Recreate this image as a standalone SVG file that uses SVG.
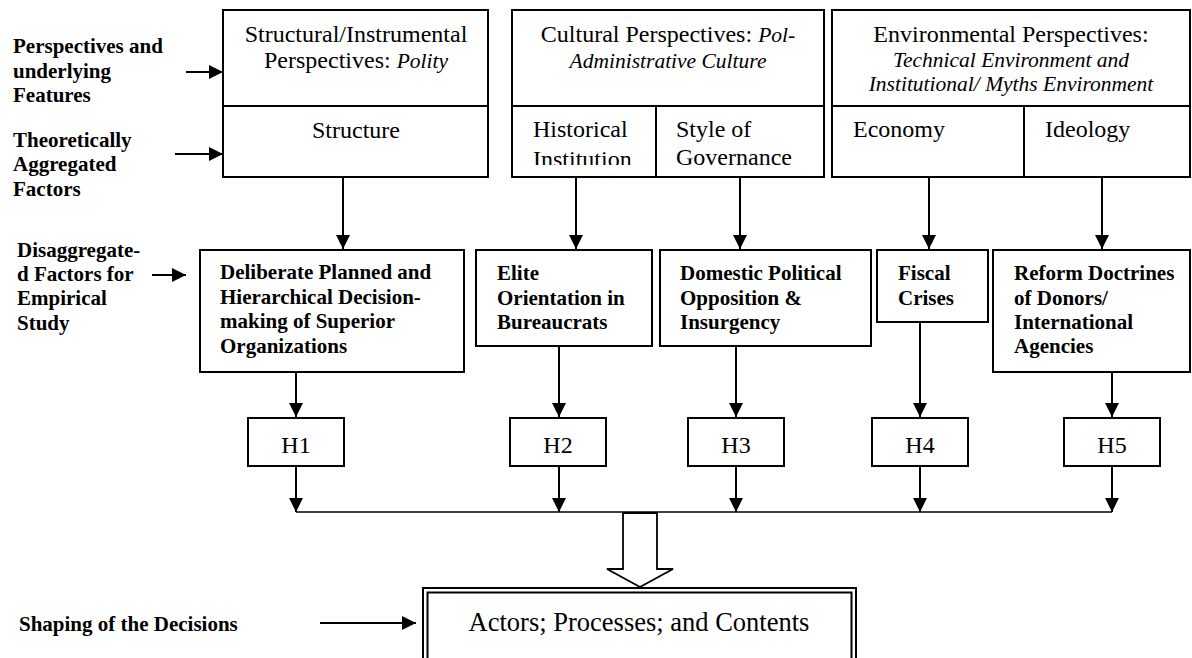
<svg xmlns="http://www.w3.org/2000/svg" width="1192" height="658" viewBox="0 0 1192 658">
<style>
text{font-family:"Liberation Serif","Times New Roman",serif;fill:#000}
.lab{font-weight:bold;font-size:21px}
.reg{font-size:24px}
.it{font-style:italic;font-size:21.5px}
.bx{fill:#fff;stroke:#000;stroke-width:2}
.ln{fill:none;stroke:#000;stroke-width:2}
.arr{fill:none;stroke:#000;stroke-width:2;marker-end:url(#ah)}
</style>
<defs>
<marker id="ah" markerUnits="userSpaceOnUse" viewBox="0 0 14 14" refX="14" refY="7" markerWidth="14" markerHeight="14" orient="auto">
<path d="M0,0 L14,7 L0,14 z" fill="#000"/>
</marker>
<clipPath id="clipHist"><rect x="512" y="106" width="144" height="59"/></clipPath>
</defs>
<rect width="1192" height="658" fill="#fff"/>

<g id="labels">
<text class="lab"><tspan x="13" y="53">Perspectives and</tspan><tspan x="13" y="78">underlying</tspan><tspan x="13" y="102">Features</tspan></text>
<text class="lab"><tspan x="13" y="147">Theoretically</tspan><tspan x="13" y="171">Aggregated</tspan><tspan x="13" y="196">Factors</tspan></text>
<text class="lab"><tspan x="17" y="257">Disaggregate-</tspan><tspan x="17" y="281">d Factors for</tspan><tspan x="17" y="305">Empirical</tspan><tspan x="17" y="330">Study</tspan></text>
<text class="lab" x="19" y="631">Shaping of the Decisions</text>
</g>

<g id="structural">
<rect class="bx" x="223" y="10" width="265" height="167"/>
<line class="ln" x1="223" y1="106" x2="488" y2="106"/>
<text class="reg" x="356" y="42" text-anchor="middle">Structural/Instrumental</text>
<text class="reg" x="356" y="68" text-anchor="middle">Perspectives: <tspan class="it">Polity</tspan></text>
<text class="reg" x="356" y="138" text-anchor="middle">Structure</text>
</g>

<g id="cultural">
<rect class="bx" x="512" y="10" width="312" height="167"/>
<line class="ln" x1="512" y1="106" x2="824" y2="106"/>
<line class="ln" x1="656" y1="106" x2="656" y2="177"/>
<text class="reg" x="668" y="42" text-anchor="middle">Cultural Perspectives: <tspan class="it">Pol-</tspan></text>
<text class="it" x="668" y="68" text-anchor="middle">Administrative Culture</text>
<text class="reg" x="533" y="137">Historical</text>
<text class="reg" x="533" y="167" clip-path="url(#clipHist)">Institution</text>
<text class="reg" x="676" y="137">Style of</text>
<text class="reg" x="676" y="165">Governance</text>
</g>

<g id="environmental">
<rect class="bx" x="832" y="10" width="358" height="167"/>
<line class="ln" x1="832" y1="106" x2="1190" y2="106"/>
<line class="ln" x1="1024" y1="106" x2="1024" y2="177"/>
<text class="reg" x="1011" y="42" text-anchor="middle">Environmental Perspectives:</text>
<text class="it" x="1011" y="67" text-anchor="middle">Technical Environment and</text>
<text class="it" x="1011" y="91" text-anchor="middle">Institutional/ Myths Environment</text>
<text class="reg" x="853" y="137">Economy</text>
<text class="reg" x="1045" y="137">Ideology</text>
</g>

<g id="deliberate">
<rect class="bx" x="200" y="250" width="264" height="122"/>
<text class="lab"><tspan x="220" y="279">Deliberate Planned and</tspan><tspan x="220" y="304">Hierarchical Decision-</tspan><tspan x="220" y="328">making of Superior</tspan><tspan x="220" y="353">Organizations</tspan></text>
</g>
<g id="elite">
<rect class="bx" x="476" y="250" width="176" height="96"/>
<text class="lab"><tspan x="497" y="280">Elite</tspan><tspan x="497" y="305">Orientation in</tspan><tspan x="497" y="329">Bureaucrats</tspan></text>
</g>
<g id="domestic">
<rect class="bx" x="660" y="250" width="211" height="96"/>
<text class="lab"><tspan x="680" y="280">Domestic Political</tspan><tspan x="680" y="305">Opposition &amp;</tspan><tspan x="680" y="329">Insurgency</tspan></text>
</g>
<g id="fiscal">
<rect class="bx" x="877" y="250" width="111" height="72"/>
<text class="lab"><tspan x="898" y="280">Fiscal</tspan><tspan x="898" y="305">Crises</tspan></text>
</g>
<g id="reform">
<rect class="bx" x="993" y="250" width="197" height="122"/>
<text class="lab"><tspan x="1014" y="280">Reform Doctrines</tspan><tspan x="1014" y="305">of Donors/</tspan><tspan x="1014" y="329">International</tspan><tspan x="1014" y="353">Agencies</tspan></text>
</g>

<g id="h1"><rect class="bx" x="248" y="418" width="96" height="48"/><text class="reg" x="296" y="453" text-anchor="middle">H1</text></g>
<g id="h2"><rect class="bx" x="510" y="418" width="96" height="48"/><text class="reg" x="558" y="453" text-anchor="middle">H2</text></g>
<g id="h3"><rect class="bx" x="688" y="418" width="96" height="48"/><text class="reg" x="736" y="453" text-anchor="middle">H3</text></g>
<g id="h4"><rect class="bx" x="872" y="418" width="96" height="48"/><text class="reg" x="920" y="453" text-anchor="middle">H4</text></g>
<g id="h5"><rect class="bx" x="1064" y="418" width="96" height="48"/><text class="reg" x="1112" y="453" text-anchor="middle">H5</text></g>

<g id="outcome">
<rect x="423" y="588" width="433" height="90" fill="#fff" stroke="#000" stroke-width="2"/>
<rect x="427.5" y="592.5" width="424" height="90" fill="none" stroke="#000" stroke-width="2"/>
<text x="639" y="631" text-anchor="middle" style="font-size:26.5px">Actors; Processes; and Contents</text>
</g>

<g id="connectors">
<line class="arr" x1="186" y1="72" x2="223" y2="72"/>
<line class="arr" x1="175" y1="154" x2="223" y2="154"/>
<line class="arr" x1="152" y1="275" x2="186" y2="275"/>
<line class="arr" x1="320" y1="623" x2="416" y2="623"/>

<line class="arr" x1="343" y1="177" x2="343" y2="249"/>
<line class="arr" x1="576" y1="177" x2="576" y2="249"/>
<line class="arr" x1="740" y1="177" x2="740" y2="249"/>
<line class="arr" x1="929" y1="177" x2="929" y2="249"/>
<line class="arr" x1="1102" y1="177" x2="1102" y2="249"/>

<line class="arr" x1="296" y1="372" x2="296" y2="417"/>
<line class="arr" x1="559" y1="346" x2="559" y2="417"/>
<line class="arr" x1="736" y1="346" x2="736" y2="417"/>
<line class="arr" x1="920" y1="322" x2="920" y2="417"/>
<line class="arr" x1="1112" y1="372" x2="1112" y2="417"/>

<line class="arr" x1="296" y1="466" x2="296" y2="512"/>
<line class="arr" x1="559" y1="466" x2="559" y2="512"/>
<line class="arr" x1="736" y1="466" x2="736" y2="512"/>
<line class="arr" x1="920" y1="466" x2="920" y2="512"/>
<line class="arr" x1="1112" y1="466" x2="1112" y2="512"/>

<line class="ln" x1="296" y1="512" x2="1112" y2="512" style="stroke-width:1.5"/>
<polygon points="623,513 657,513 657,569 673,569 640,587 607,569 623,569" fill="#fff" stroke="#000" stroke-width="1.8" stroke-linejoin="miter"/>
</g>
</svg>
